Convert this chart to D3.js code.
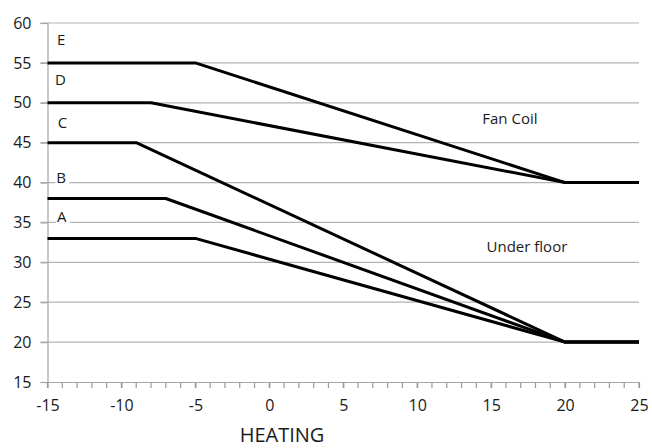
<!DOCTYPE html>
<html lang="en">
<head>
    <meta charset="UTF-8">
    <title>Heating curves</title>
    <script src="https://cdn.jsdelivr.net/npm/d3@7"></script>
    <style>
        body { margin: 0; background: #fff; }
        text { font-family: "Open Sans", "Noto Sans", sans-serif; fill: #1a1a1a; }
    </style>
</head>
<body>
<svg width="652" height="448"></svg>
<script>
    // curves: outdoor temp -> flow temp
    const curveNames = ["A", "B", "C", "D", "E"]
    const curveX = [
        [-15, -5, 20, 25],
        [-15, -7, 20, 25],
        [-15, -9, 20, 25],
        [-15, -8, 20, 25],
        [-15, -5, 20, 25]
    ]
    const curveY = [
        [33, 33, 20, 20],
        [38, 38, 20, 20],
        [45, 45, 20, 20],
        [50, 50, 40, 40],
        [55, 55, 40, 40]
    ]
    // letter label positions (data units, baseline)
    const labelX = [-14.35, -14.4, -14.3, -14.5, -14.35]
    const labelY = [35, 40, 46.8, 52.2, 57.2]

    const zoneLabels = ["Fan Coil", "Under floor"]
    const zoneX = [16.27, 17.42]
    const zoneY = [47.3, 31.3]

    const xTicks = [-15, -10, -5, 0, 5, 10, 15, 20, 25]
    const yTicks = [15, 20, 25, 30, 35, 40, 45, 50, 55, 60]

    const svg = d3.select("svg")
    const plotL = 47.5, plotR = 639, plotT = 23, plotB = 382

    const x = d3.scaleLinear().domain([-15, 25]).range([plotL, plotR])
    const y = d3.scaleLinear().domain([15, 60]).range([plotB, plotT])

    // gridlines
    svg.append("g")
        .selectAll("line")
        .data(yTicks.filter(d => d > 15))
        .enter()
        .append("line")
        .attr("x1", plotL - 7).attr("x2", plotR)
        .attr("y1", d => y(d)).attr("y2", d => y(d))
        .attr("stroke", "#b3b3b3").attr("stroke-width", 1.2)

    // y axis
    const yAxis = svg.append("g")
        .attr("transform", `translate(${plotL},0)`)
        .call(d3.axisLeft(y).tickValues(yTicks).tickSize(7).tickPadding(9).tickFormat(d => String(d)))
    yAxis.select(".domain").attr("stroke", "#a6a6a6").attr("stroke-width", 1.2)
    yAxis.selectAll(".tick line").attr("stroke", "#a6a6a6").attr("stroke-width", 1.2)
    yAxis.selectAll("text").attr("font-size", 16).attr("fill", "#2a2a2a")

    // x axis minor ticks, one per degree
    const minor = d3.range(-15, 26)
    svg.append("g")
        .selectAll("line")
        .data(minor)
        .enter()
        .append("line")
        .attr("x1", d => x(d)).attr("x2", d => x(d))
        .attr("y1", plotB).attr("y2", plotB + 6)
        .attr("stroke", "#999").attr("stroke-width", 1.2)

    const xAxis = svg.append("g")
        .attr("transform", `translate(0,${plotB})`)
        .call(d3.axisBottom(x).tickValues(xTicks).tickSize(6).tickPadding(12)
            .tickSizeOuter(0).tickFormat(d => String(d)))
    xAxis.select(".domain").attr("stroke", "#a6a6a6").attr("stroke-width", 1.2)
    xAxis.selectAll(".tick line").attr("stroke", "#999").attr("stroke-width", 1.2)
    xAxis.selectAll("text").attr("font-size", 16).attr("fill", "#2a2a2a")

    // curves
    const line = d3.line().x(d => x(d[0])).y(d => y(d[1]))
    svg.append("g")
        .selectAll("path")
        .data(curveNames.map((n, i) => curveX[i].map((v, j) => [v, curveY[i][j]])))
        .enter()
        .append("path")
        .attr("d", line)
        .attr("fill", "none")
        .attr("stroke", "#000")
        .attr("stroke-width", 3)
        .attr("stroke-linejoin", "round")

    // letter labels on white boxes
    const lbl = svg.append("g")
        .selectAll("g")
        .data(curveNames)
        .enter()
        .append("g")
    lbl.append("text")
        .attr("x", (d, i) => x(labelX[i]))
        .attr("y", (d, i) => y(labelY[i]))
        .attr("font-size", 15)
        .text(d => d)
    lbl.each(function () {
        const g = d3.select(this)
        const b = g.select("text").node().getBBox()
        g.insert("rect", "text")
            .attr("x", b.x - 1).attr("y", b.y)
            .attr("width", b.width + 4).attr("height", b.height)
            .attr("fill", "#fff")
    })

    svg.append("g")
        .selectAll("text")
        .data(zoneLabels)
        .enter()
        .append("text")
        .attr("x", (d, i) => x(zoneX[i]))
        .attr("y", (d, i) => y(zoneY[i]))
        .attr("text-anchor", "middle")
        .attr("font-size", 15)
        .text(d => d)

    svg.append("text")
        .attr("x", 282)
        .attr("y", 442)
        .attr("text-anchor", "middle")
        .attr("font-size", 20)
        .text("HEATING")
</script>
</body>
</html>
